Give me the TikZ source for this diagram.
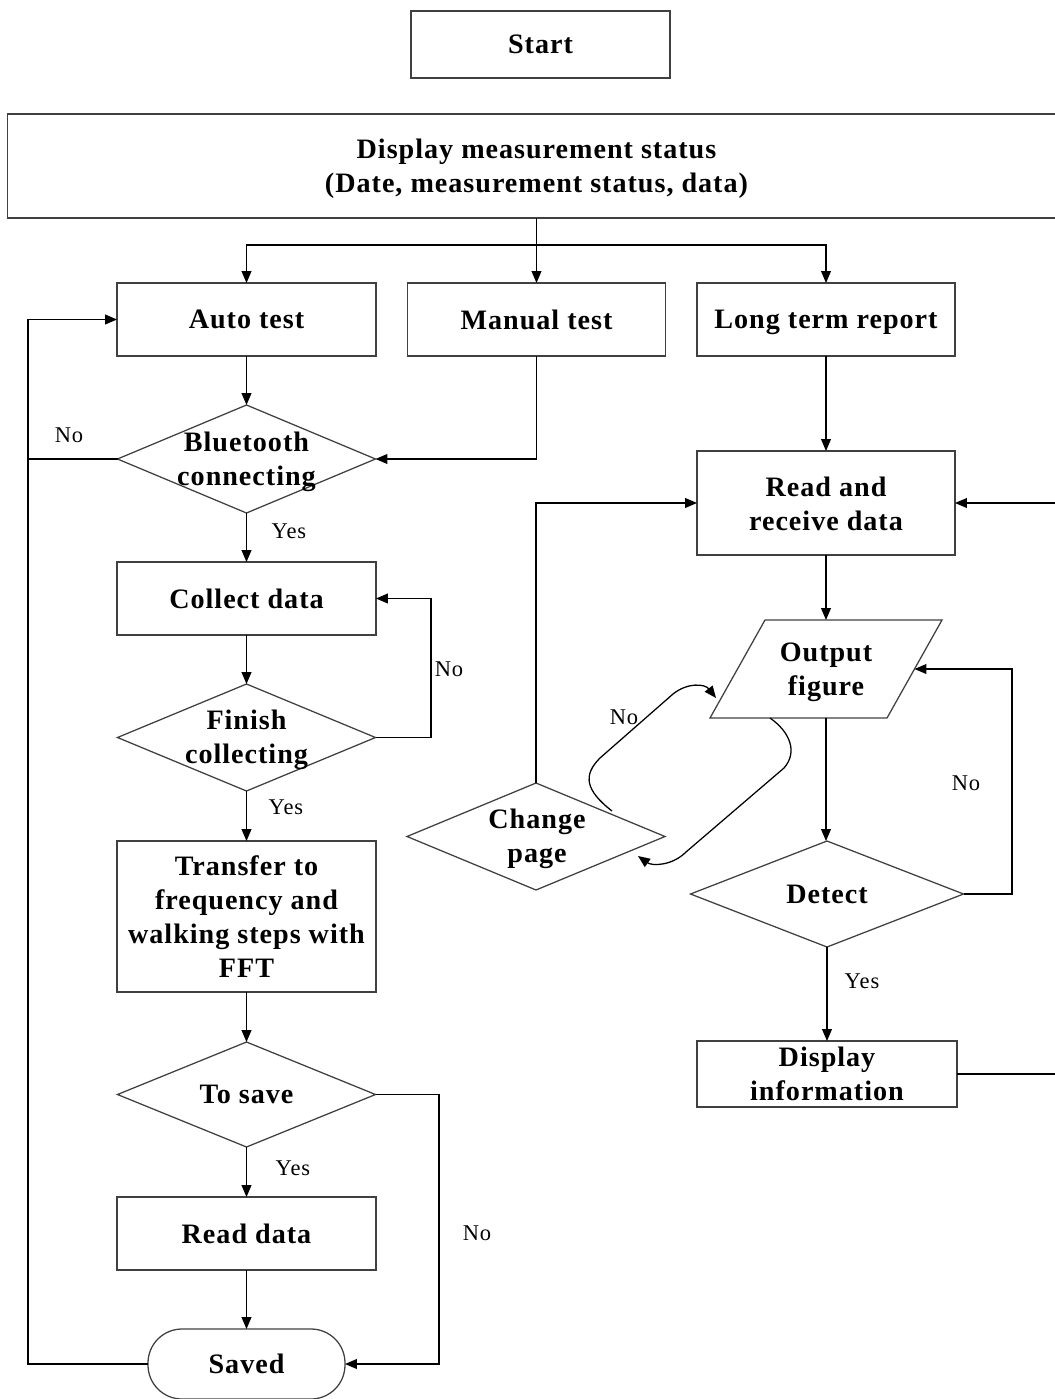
\documentclass[tikz,border=0pt]{standalone}
\usepackage{fontspec}
\setmainfont{Liberation Serif}
\newfontfamily\boldsp[LetterSpace=3.5]{Liberation Serif}
\newfontfamily\lblsp[LetterSpace=4]{Liberation Serif}
\usetikzlibrary{shapes.geometric,arrows.meta}
\begin{document}
\begin{tikzpicture}[x=0.025cm,y=-0.025cm,
  every node/.style={inner sep=0pt, outer sep=0pt},
  box/.style={draw=black!75, line width=0.9pt, rectangle, align=center, font=\boldsp\bfseries\fontsize{20}{24}\selectfont},
  txt/.style={align=center, font=\boldsp\bfseries\fontsize{20}{24}\selectfont},
  dia/.style={draw=black!75, line width=0.9pt, diamond},
  lbl/.style={font=\lblsp\fontsize{16}{19}\selectfont},
  ln/.style={draw=black, line width=0.9pt},
  arr/.style={draw=black, line width=0.9pt, -{Triangle[length=8.5pt,width=7pt]}}
]
\useasboundingbox (0,0) rectangle (1054,1399);
% nodes
\node[box, minimum width=259*0.025cm, minimum height=67*0.025cm] (start) at (540.5,44.5) {Start};
\node[box, minimum width=1058*0.025cm, minimum height=104*0.025cm] (disp) at (536.5,166) {};
\node[txt] (dispt) at (536.5,169) {Display measurement status\\(Date, measurement status, data)};
\node[box, minimum width=259*0.025cm, minimum height=73*0.025cm] (auto) at (246.5,319.5) {Auto test};
\node[box, minimum width=258*0.025cm, minimum height=73*0.025cm] (manual) at (536.5,319.5) {Manual test};
\node[box, text depth=0pt, minimum width=258*0.025cm, minimum height=73*0.025cm] (long) at (826,319.5) {Long term report};
\node[dia, minimum width=258*0.025cm, minimum height=108*0.025cm] (bt) at (246.5,459) {};
\node[txt] (btt) at (246.5,461.5) {Bluetooth\\connecting};
\node[box, minimum width=259*0.025cm, minimum height=73*0.025cm] (collect) at (246.5,598.5) {Collect data};
\node[dia, minimum width=258*0.025cm, minimum height=107*0.025cm] (fin) at (246.5,737.5) {};
\node[txt] (fint) at (246.5,740) {Finish\\collecting};
\node[box, minimum width=259*0.025cm, minimum height=151*0.025cm] (trans) at (246.5,916.5) {Transfer to\\frequency and\\walking steps with\\FFT};
\node[dia, minimum width=258*0.025cm, minimum height=105*0.025cm] (save) at (246.5,1094.5) {};
\node[txt] (savet) at (246.5,1094.5) {To save};
\node[box, minimum width=259*0.025cm, minimum height=73*0.025cm] (read) at (246.5,1233.5) {Read data};
\node[box, rounded corners=34*0.025cm, minimum width=197*0.025cm, minimum height=70*0.025cm] (saved) at (246.5,1364) {Saved};
\node[box, minimum width=258*0.025cm, minimum height=104*0.025cm] (rrd) at (826,503) {};
\node[txt] (rrdt) at (826,504) {Read and\\receive data};
% parallelogram (Output figure)
\draw[draw=black!75, line width=0.9pt] (765,620) -- (942,620) -- (887,718) -- (710,718) -- cycle;
\node[txt] (outft) at (826,672) {Output\\figure};
\coordinate (outN) at (826,620);
\coordinate (outS) at (826,718);
\coordinate (outE) at (914.5,669);
\node[dia, minimum width=273*0.025cm, minimum height=106*0.025cm] (det) at (827,894) {};
\node[txt] (dett) at (827,894) {Detect};
\node[box, minimum width=260*0.025cm, minimum height=66*0.025cm] (dinfo) at (827,1074) {Display\\information};
\node[dia, minimum width=258*0.025cm, minimum height=107*0.025cm] (chg) at (536,836.5) {};
\node[txt] (chgt) at (537,839) {Change\\page};
% helper coordinates
\coordinate (j) at (536.5,245);
\coordinate (lx) at (28,0);
\coordinate (fx) at (431,0);
\coordinate (sx) at (439,0);
\coordinate (dx) at (1012,0);
\coordinate (re) at (1070,503);
\coordinate (rx) at (1070,0);
\coordinate (c1a) at (612,811);
\coordinate (c1b) at (716,698);
\coordinate (c2a) at (770,718);
\coordinate (c2b) at (638,856);
% connectors
\draw[ln] (disp.south) -- (j);
\draw[arr] (j) -| (auto.north);
\draw[arr] (j) -- (manual.north);
\draw[arr] (j) -| (long.north);
\draw[arr] (auto) -- (bt);
\draw[arr] (manual.south) |- (bt.east);
\draw[arr] (bt.west) -- (bt.west -| lx) |- (auto.west);
\draw[ln] (bt.west -| lx) |- (saved.west);
\draw[arr] (bt.south) -- (collect.north);
\draw[arr] (collect) -- (fin);
\draw[arr] (fin.east) -- (fin.east -| fx) |- (collect.east);
\draw[arr] (fin.south) -- (trans.north);
\draw[arr] (trans) -- (save);
\draw[arr] (save) -- (read);
\draw[arr] (read) -- (saved);
\draw[arr] (save.east) -- (save.east -| sx) |- (saved.east);
\draw[arr] (long) -- (rrd);
\draw[arr] (re) -- (rrd.east);
\draw[arr] (rrd.south) -- (outN);
\draw[arr] (outS) -- (outS |- det.north);
\draw[arr] (det.east) -- (det.east -| dx) |- (outE);
\draw[arr] (det.south) -- (dinfo.north);
\draw[ln] (dinfo.east) -- (dinfo.east -| rx);
\draw[arr] (chg.north) |- (rrd.west);
\draw[arr] (c1a) .. controls (585,790) and (583,775) .. (600,758) -- (673,694) .. controls (688,682) and (705,684) .. (c1b);
\draw[arr] (c2a) .. controls (790,732) and (798,752) .. (784,768) -- (686,852) .. controls (672,866) and (652,866) .. (c2b);
% labels
\node[lbl] (l1) at (69,435) {No};
\node[lbl] (l2) at (289,531) {Yes};
\node[lbl] (l3) at (449,669) {No};
\node[lbl] (l4) at (286,807) {Yes};
\node[lbl] (l5) at (293,1168) {Yes};
\node[lbl] (l6) at (477,1233) {No};
\node[lbl] (l7) at (624,717) {No};
\node[lbl] (l8) at (966,783) {No};
\node[lbl] (l9) at (862,981) {Yes};
\end{tikzpicture}
\end{document}
